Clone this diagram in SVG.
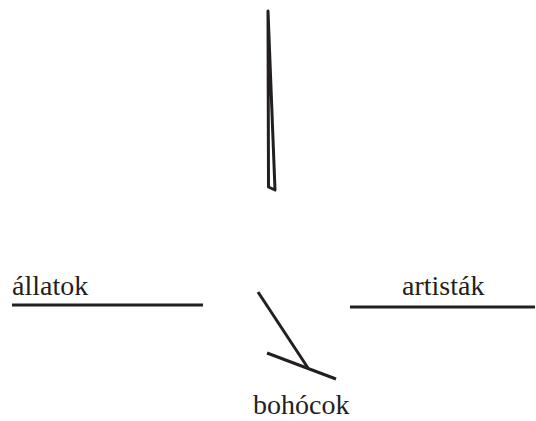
<svg xmlns="http://www.w3.org/2000/svg" width="536" height="421" viewBox="0 0 536 421">
<style>
.t{font-family:'Liberation Serif',serif;font-size:28px;fill:#231f20}
.l{stroke:#231f20;stroke-width:3;fill:none}
</style>
<rect width="536" height="421" fill="#fff"/>
<g id="connectors">
<polygon class="l" points="268,11 268.5,187 275,190" stroke-width="2.2" stroke-linejoin="round"/>
<line class="l" x1="258" y1="292" x2="308" y2="368"/>
<line class="l" x1="267" y1="353" x2="336" y2="379"/>
</g>
<g id="allatok"><text class="t" x="12" y="295" font-family="Liberation Serif">állatok</text><line class="l" x1="12" y1="305" x2="203" y2="305"/></g>
<g id="artistak"><text class="t" x="402" y="295" font-family="Liberation Serif">artisták</text><line class="l" x1="350" y1="307" x2="535" y2="307"/></g>
<g id="bohocok"><text class="t" x="253" y="414" font-family="Liberation Serif">bohócok</text></g>
</svg>
